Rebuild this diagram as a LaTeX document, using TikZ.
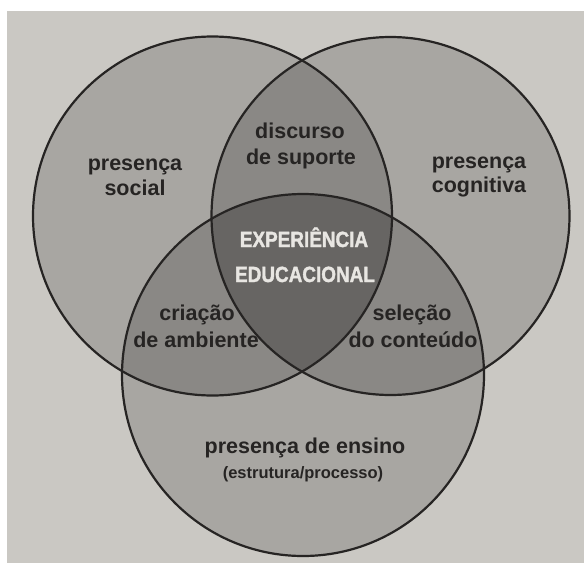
\documentclass[tikz,border=0pt]{standalone}
\usepackage{fontspec}
\setmainfont{Liberation Sans}
\newfontfamily\condfont[FakeStretch=0.86, FakeBold=1.6]{Liberation Sans Bold}
\definecolor{bgcol}{HTML}{CAC8C3}
\definecolor{onecol}{HTML}{A8A6A2}
\definecolor{twocol}{HTML}{8A8885}
\definecolor{threecol}{HTML}{676563}
\definecolor{inkcol}{HTML}{262423}
\definecolor{lightink}{HTML}{E8E6E2}
\tikzset{
  ring/.style={draw=inkcol, line width=2.2pt},
  lbl/.style={anchor=base, inner sep=0pt, text=inkcol, font=\fontsize{21.5}{26}\selectfont\bfseries},
  sublbl/.style={anchor=base, inner sep=0pt, text=inkcol, font=\fontsize{16.5}{20}\selectfont\bfseries},
  centrelbl/.style={anchor=base, inner sep=0pt, text=lightink, font=\condfont\fontsize{22}{26}\selectfont}
}
\begin{document}
\begin{tikzpicture}[x=1pt,y=-1pt]
\fill[white] (0,0) rectangle (584,563);
\fill[bgcol] (7,11) rectangle (584,563);
\useasboundingbox (0,0) rectangle (584,563);
\coordinate (cL) at (212.5,216);
\coordinate (cR) at (390.5,216);
\coordinate (cB) at (303,375);
\def\rL{179.5pt}
\def\rR{179pt}
\def\rB{181pt}
% single regions
\fill[onecol] (cL) circle[radius=\rL];
\fill[onecol] (cR) circle[radius=\rR];
\fill[onecol] (cB) circle[radius=\rB];
% pairwise overlaps
\begin{scope}
  \clip (cL) circle[radius=\rL];
  \fill[twocol] (cR) circle[radius=\rR];
  \fill[twocol] (cB) circle[radius=\rB];
\end{scope}
\begin{scope}
  \clip (cR) circle[radius=\rR];
  \fill[twocol] (cB) circle[radius=\rB];
\end{scope}
% triple overlap
\begin{scope}
  \clip (cL) circle[radius=\rL];
  \clip (cR) circle[radius=\rR];
  \fill[threecol] (cB) circle[radius=\rB];
\end{scope}
% outlines
\draw[ring] (cL) circle[radius=\rL];
\draw[ring] (cR) circle[radius=\rR];
\draw[ring] (cB) circle[radius=\rB];
% labels
\node[lbl] (ps1) at (135,170) {presença};
\node[lbl] (ps2) at (135,195) {social};
\node[lbl] (ds1) at (300,138) {discurso};
\node[lbl] (ds2) at (301,164) {de suporte};
\node[lbl] (pc1) at (479,168) {presença};
\node[lbl] (pc2) at (479,192) {cognitiva};
\node[centrelbl] (ee1) at (304,247) {EXPERIÊNCIA};
\node[centrelbl] (ee2) at (305,282) {EDUCACIONAL};
\node[lbl] (ca1) at (197,320) {criação};
\node[lbl] (ca2) at (196,347) {de ambiente};
\node[lbl] (sc1) at (412,320) {seleção};
\node[lbl] (sc2) at (413,347) {do conteúdo};
\node[lbl] (pe1) at (305,453) {presença de ensino};
\node[sublbl] (pe2) at (303,478) {(estrutura/processo)};
\end{tikzpicture}
\end{document}
